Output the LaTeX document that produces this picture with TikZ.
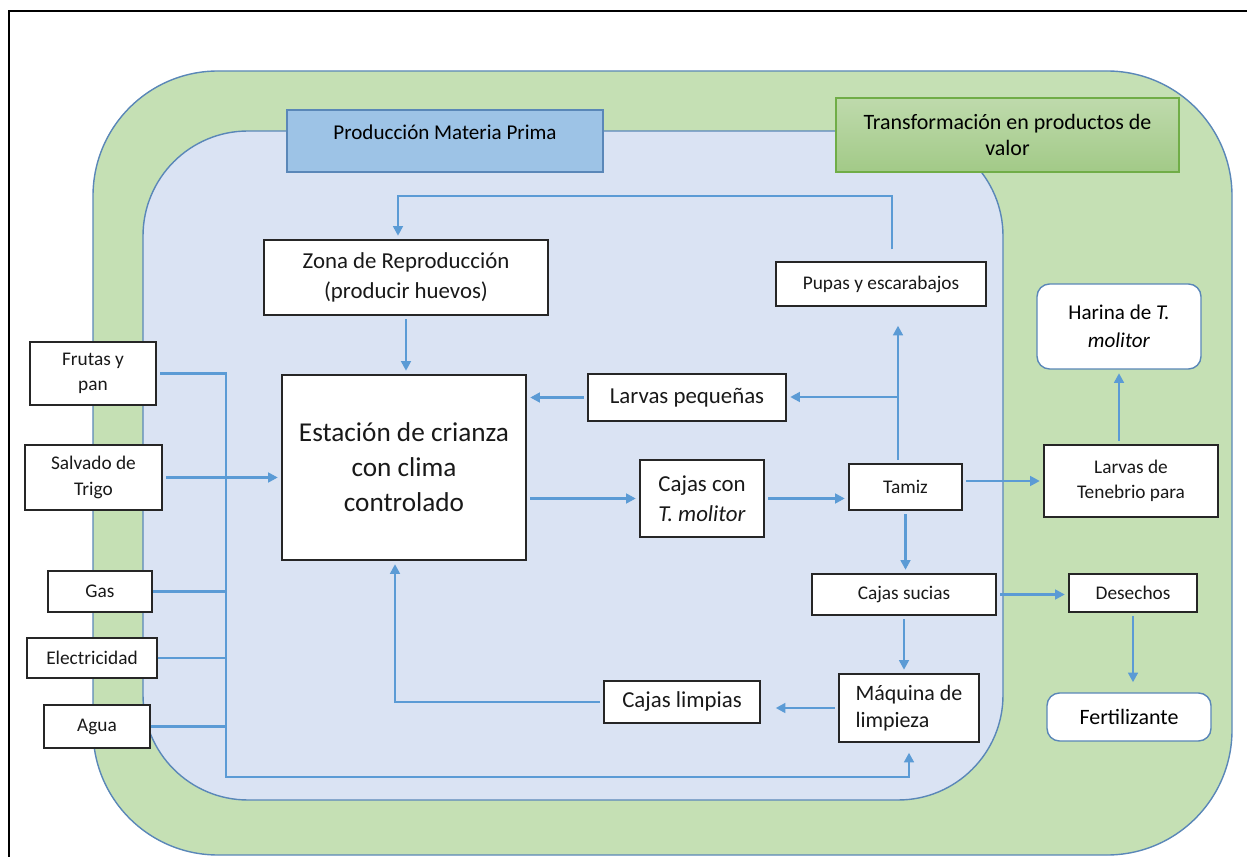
\documentclass[tikz,border=0pt]{standalone}
\usepackage{fontspec}
\setmainfont{Carlito}
\usepackage{xcolor}
\usetikzlibrary{arrows.meta}
\definecolor{verde}{HTML}{C5E0B4}
\definecolor{azulclaro}{HTML}{DAE3F3}
\definecolor{borde}{HTML}{5A87B8}
\definecolor{flujo}{HTML}{5B9BD5}
\definecolor{titulo}{HTML}{9DC3E6}
\definecolor{verdeborde}{HTML}{70AD47}

\begin{document}
\begin{tikzpicture}[x=0.02cm, y=-0.02cm,
    caja/.style={draw=black!85, fill=white, line width=0.8pt, align=center, inner sep=1pt, text=black!90},
    chica/.style={caja, font=\fontsize{11}{14.5}\selectfont},
    media/.style={caja, font=\fontsize{13}{17}\selectfont},
    redonda/.style={draw=borde, fill=white, rounded corners=0.25cm, line width=0.8pt, align=center, font=\fontsize{12}{16}\selectfont},
    flecha/.style={draw=flujo, line width=1.4pt, -{Triangle[length=5.5pt, width=5.5pt]}, shorten <=2pt, shorten >=2pt},
    linea/.style={draw=flujo, line width=1.4pt}]
    % \draw[line width=0.1mm, color=black] (0,0) grid (1247,857);
    \useasboundingbox (0,0) rectangle (1247,857);
    \draw[line width=1.2pt] (9,857) -- (9,11) -- (1247,11);

    \draw[draw=borde, fill=verde, line width=0.8pt, rounded corners=2.5cm] (93,71) rectangle (1232,855);
    \draw[draw=borde, fill=azulclaro, line width=0.8pt, rounded corners=2.1cm] (143,131) rectangle (1003,800);

    \node[draw=borde, fill=titulo, line width=0.8pt, minimum width=6.32cm, minimum height=1.24cm,
        label={[anchor=north, yshift=-0.18cm, font=\fontsize{12}{14}\selectfont]north:Producción Materia Prima}] (prod) at (445,141) {};
    \node[draw=verdeborde, top color=verdeborde!45, bottom color=verdeborde!65, line width=0.8pt,
        minimum width=6.86cm, minimum height=1.48cm, align=center, font=\fontsize{12.5}{15.3}\selectfont] (trans) at (1007.5,135) {Transformación en productos de\\valor};

    \node[media, minimum width=5.68cm, minimum height=1.5cm] (zona) at (406,277.5) {Zona de Reproducción\\(producir huevos)};
    \node[caja, minimum width=4.88cm, minimum height=3.7cm, font=\fontsize{15.5}{20}\selectfont] (estacion) at (404,467.5) {Estación de crianza\\con clima\\controlado};
    \node[chica, minimum width=4.2cm, minimum height=0.88cm] (pupas) at (881,284) {Pupas y escarabajos};
    \node[media, minimum width=3.96cm, minimum height=0.94cm] (pequenas) at (687,397.5) {Larvas pequeñas};
    \node[media, minimum width=2.48cm, minimum height=1.54cm] (cajascon) at (702,498.5) {Cajas con\\\textit{T. molitor}};
    \node[chica, minimum width=2.26cm, minimum height=0.92cm] (tamiz) at (905.5,487) {Tamiz};
    \node[chica, minimum width=3.68cm, minimum height=0.82cm] (sucias) at (904,594.5) {Cajas sucias};
    \node[media, align=left, minimum width=2.8cm, minimum height=1.36cm, font=\fontsize{12.5}{15}\selectfont] (maquina) at (909,708) {Máquina de\\limpieza};
    \node[media, minimum width=3.12cm, minimum height=0.84cm] (limpias) at (682,702) {Cajas limpias};

    \node[chica, minimum width=3.48cm, minimum height=1.44cm] (tenebrio) at (1131,481) {Larvas de\\Tenebrio para};
    \node[redonda, minimum width=3.28cm, minimum height=1.7cm] (harina) at (1119,326.5) {Harina de \textit{T.}\\\textit{molitor}};
    \node[chica, minimum width=2.56cm, minimum height=0.76cm] (desechos) at (1133,593) {Desechos};
    \node[redonda, minimum width=3.28cm, minimum height=0.96cm, font=\fontsize{12.5}{16}\selectfont] (fertil) at (1129,717) {Fertilizante};

    \node[chica, minimum width=2.52cm, minimum height=1.26cm] (frutas) at (93,373.5) {Frutas y\\pan};
    \node[chica, minimum width=2.74cm, minimum height=1.3cm] (salvado) at (93.5,477.5) {Salvado de\\Trigo};
    \node[chica, minimum width=2.08cm, minimum height=0.82cm] (gas) at (100,591.5) {Gas};
    \node[chica, minimum width=2.6cm, minimum height=0.8cm] (elec) at (92,658) {Electricidad};
    \node[chica, minimum width=2.12cm, minimum height=0.86cm] (agua) at (97,726.5) {Agua};

    % ciclo de produccion
    \coordinate (arribaI) at (398,196);
    \coordinate (arribaD) at (892,196);
    \coordinate (cruce) at (898,397);
    \coordinate (retorno) at (395,697);
    \draw[flecha, shorten <=0.24cm] (arribaD |- pupas.north) -- (arribaD) -- (arribaI) -- (arribaI |- zona.north);
    \draw[flecha] (zona.south) -- (zona.south |- estacion.north);
    \draw[flecha, shorten >=0.38cm] (cruce |- tamiz.north) -- (cruce |- pupas.south);
    \draw[flecha, shorten <=0pt] (cruce) -- (cruce -| pequenas.east);
    \draw[flecha] (pequenas.west) -- (pequenas.west -| estacion.east);
    \draw[flecha] (cajascon.west -| estacion.east) -- (cajascon.west);
    \draw[flecha] (cajascon.east) -- (cajascon.east -| tamiz.west);
    \draw[flecha] (tamiz.south) -- (tamiz.south |- sucias.north);
    \draw[flecha] (tamiz.east |- tenebrio.west) -- (tenebrio.west);
    \draw[flecha] (sucias.east) -- (sucias.east -| desechos.west);
    \draw[flecha, shorten >=0.2cm] (desechos.south) -- (desechos.south |- fertil.north);
    \draw[flecha] (harina.south |- tenebrio.north) -- (harina.south);
    \draw[flecha] (sucias.south) -- (sucias.south |- maquina.north);
    \draw[flecha, shorten >=0.3cm] (maquina.west) -- (maquina.west -| limpias.east);
    \draw[flecha] (limpias.west) -- (limpias.west -| retorno) -- (retorno |- estacion.south);

    % insumos
    \coordinate (busN) at (226,375);
    \coordinate (busS) at (226,777);
    \draw[flecha, shorten >=0.2cm] (frutas.east) -- (frutas.east -| busN) -- (busS) -- (busS -| maquina.south) -- (maquina.south);
    \draw[flecha] (salvado.east) -- (salvado.east -| estacion.west);
    \draw[linea] (gas.east) -- (gas.east -| busN);
    \draw[linea] (elec.east) -- (elec.east -| busN);
    \draw[linea] (agua.east) -- (agua.east -| busN);
\end{tikzpicture}
\end{document}
